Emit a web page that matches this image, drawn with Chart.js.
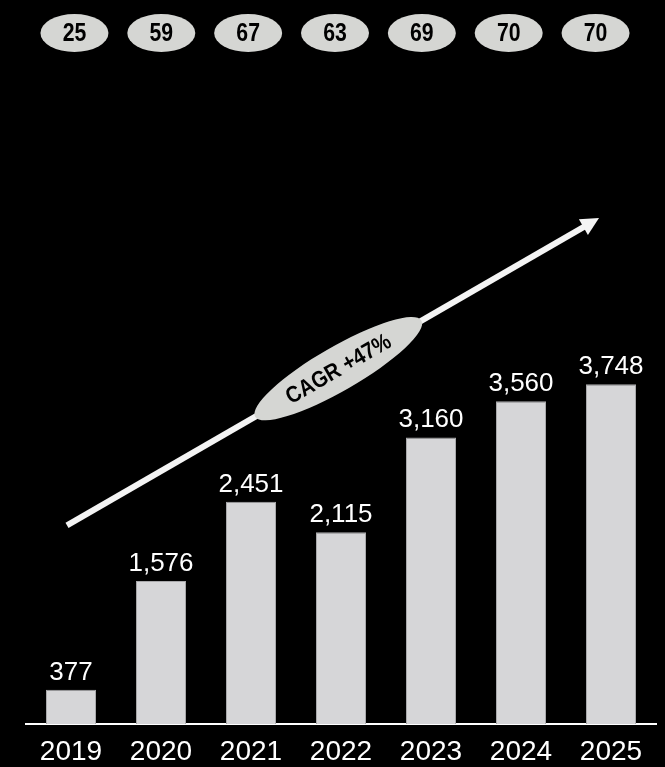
<!DOCTYPE html>
<html>
<head>
<meta charset="utf-8">
<script src="https://cdn.jsdelivr.net/npm/chart.js@4.4.1/dist/chart.umd.min.js"></script>
<style>
  html, body { margin: 0; padding: 0; background: #000; }
  #wrap { width: 665px; height: 767px; }
</style>
</head>
<body>
<div id="wrap"><canvas id="grafico" width="665" height="767"></canvas></div>
<script>
// Dados do gráfico
const anos = ['2019', '2020', '2021', '2022', '2023', '2024', '2025'];
const valores = [377, 1576, 2451, 2115, 3160, 3560, 3748];
const selos = [25, 59, 67, 63, 69, 70, 70];     // números nas elipses do topo
const textoCagr = 'CAGR +47%';
const setaInicio = 2190;   // altura da seta em 2019 (na escala do eixo y)
const setaFim = 5580;      // altura da ponta da seta em 2025

const corBarra = '#d6d6d8';
const corSelo = '#d5d6d3';
const fonte = "'Liberation Sans', Arial, sans-serif";

// Rótulos de valor acima das barras
const rotulos = {
    id: 'rotulos',
    afterDatasetsDraw(chart) {
        const ctx = chart.ctx;
        const meta = chart.getDatasetMeta(0);
        ctx.save();
        ctx.fillStyle = '#fff';
        ctx.font = '26px ' + fonte;
        ctx.textAlign = 'center';
        ctx.textBaseline = 'alphabetic';
        meta.data.forEach((bar, i) => {
            ctx.fillText(valores[i].toLocaleString('en-US'), bar.x, bar.y - 10);
        });
        ctx.restore();
    }
};

// Texto estreito (achatado na horizontal)
function textoEstreito(ctx, txt, x, y, escala) {
    ctx.save();
    ctx.translate(x, y);
    ctx.scale(escala, 1);
    ctx.fillText(txt, 0, 0);
    ctx.restore();
}

// Elipses com números no topo
const selosTopo = {
    id: 'selosTopo',
    afterDraw(chart) {
        const ctx = chart.ctx;
        const x = chart.scales.x;
        const meio = x.getPixelForValue(3);
        ctx.save();
        selos.forEach((v, i) => {
            const cx = meio - 6 + (x.getPixelForValue(i) - meio) * 0.965;
            const cy = 33;
            ctx.beginPath();
            ctx.ellipse(cx, cy, 34, 19, 0, 0, Math.PI * 2);
            ctx.fillStyle = corSelo;
            ctx.fill();
            ctx.fillStyle = '#000';
            ctx.font = 'bold 25px ' + fonte;
            ctx.textAlign = 'center';
            ctx.textBaseline = 'middle';
            textoEstreito(ctx, String(v), cx, cy + 1, 0.85);
        });
        ctx.restore();
    }
};

// Seta de crescimento com a elipse do CAGR
const setaCagr = {
    id: 'setaCagr',
    afterDraw(chart) {
        const ctx = chart.ctx;
        const x = chart.scales.x;
        const y = chart.scales.y;
        const x0 = x.getPixelForValue(0) - 4;
        const y0 = y.getPixelForValue(setaInicio);
        const x1 = x.getPixelForValue(anos.length - 1) - 12;
        const y1 = y.getPixelForValue(setaFim);
        const ang = Math.atan2(y1 - y0, x1 - x0);
        const cabeca = 18;

        ctx.save();
        ctx.strokeStyle = '#f4f4f4';
        ctx.fillStyle = '#f4f4f4';
        ctx.lineWidth = 6;
        ctx.beginPath();
        ctx.moveTo(x0, y0);
        ctx.lineTo(x1 - Math.cos(ang) * cabeca * 0.8, y1 - Math.sin(ang) * cabeca * 0.8);
        ctx.stroke();

        // ponta da seta
        ctx.translate(x1, y1);
        ctx.rotate(ang);
        ctx.beginPath();
        ctx.moveTo(0, 0);
        ctx.lineTo(-cabeca, -9);
        ctx.lineTo(-cabeca, 9);
        ctx.closePath();
        ctx.fill();
        ctx.restore();

        // elipse com o texto
        const t = 0.51;
        const cx = x0 + (x1 - x0) * t;
        const cy = y0 + (y1 - y0) * t;
        ctx.save();
        ctx.translate(cx, cy);
        ctx.rotate(ang);
        ctx.beginPath();
        ctx.ellipse(0, 0, 96, 22, 0, 0, Math.PI * 2);
        ctx.fillStyle = corSelo;
        ctx.fill();
        ctx.fillStyle = '#000';
        ctx.font = 'bold 23px ' + fonte;
        ctx.textAlign = 'center';
        ctx.textBaseline = 'middle';
        textoEstreito(ctx, textoCagr, 0, 1, 0.88);
        ctx.restore();
    }
};

new Chart(document.getElementById('grafico'), {
    type: 'bar',
    data: {
        labels: anos,
        datasets: [{
            data: valores,
            backgroundColor: corBarra,
            borderColor: '#a8a8aa',
            borderWidth: 1,
            categoryPercentage: 1,
            barPercentage: 0.556
        }]
    },
    options: {
        responsive: false,
        animation: false,
        layout: { padding: { left: 26, right: 9, top: 180, bottom: -13 } },
        plugins: { legend: { display: false }, tooltip: { enabled: false } },
        scales: {
            x: {
                grid: { display: false, drawTicks: false },
                border: { display: true, color: '#fff', width: 2 },
                ticks: { color: '#fff', font: { size: 28, family: fonte, lineHeight: 1 }, padding: 14, maxRotation: 0 }
            },
            y: {
                display: false,
                min: 0,
                max: 6000
            }
        }
    },
    plugins: [rotulos, selosTopo, setaCagr]
});
</script>
</body>
</html>
